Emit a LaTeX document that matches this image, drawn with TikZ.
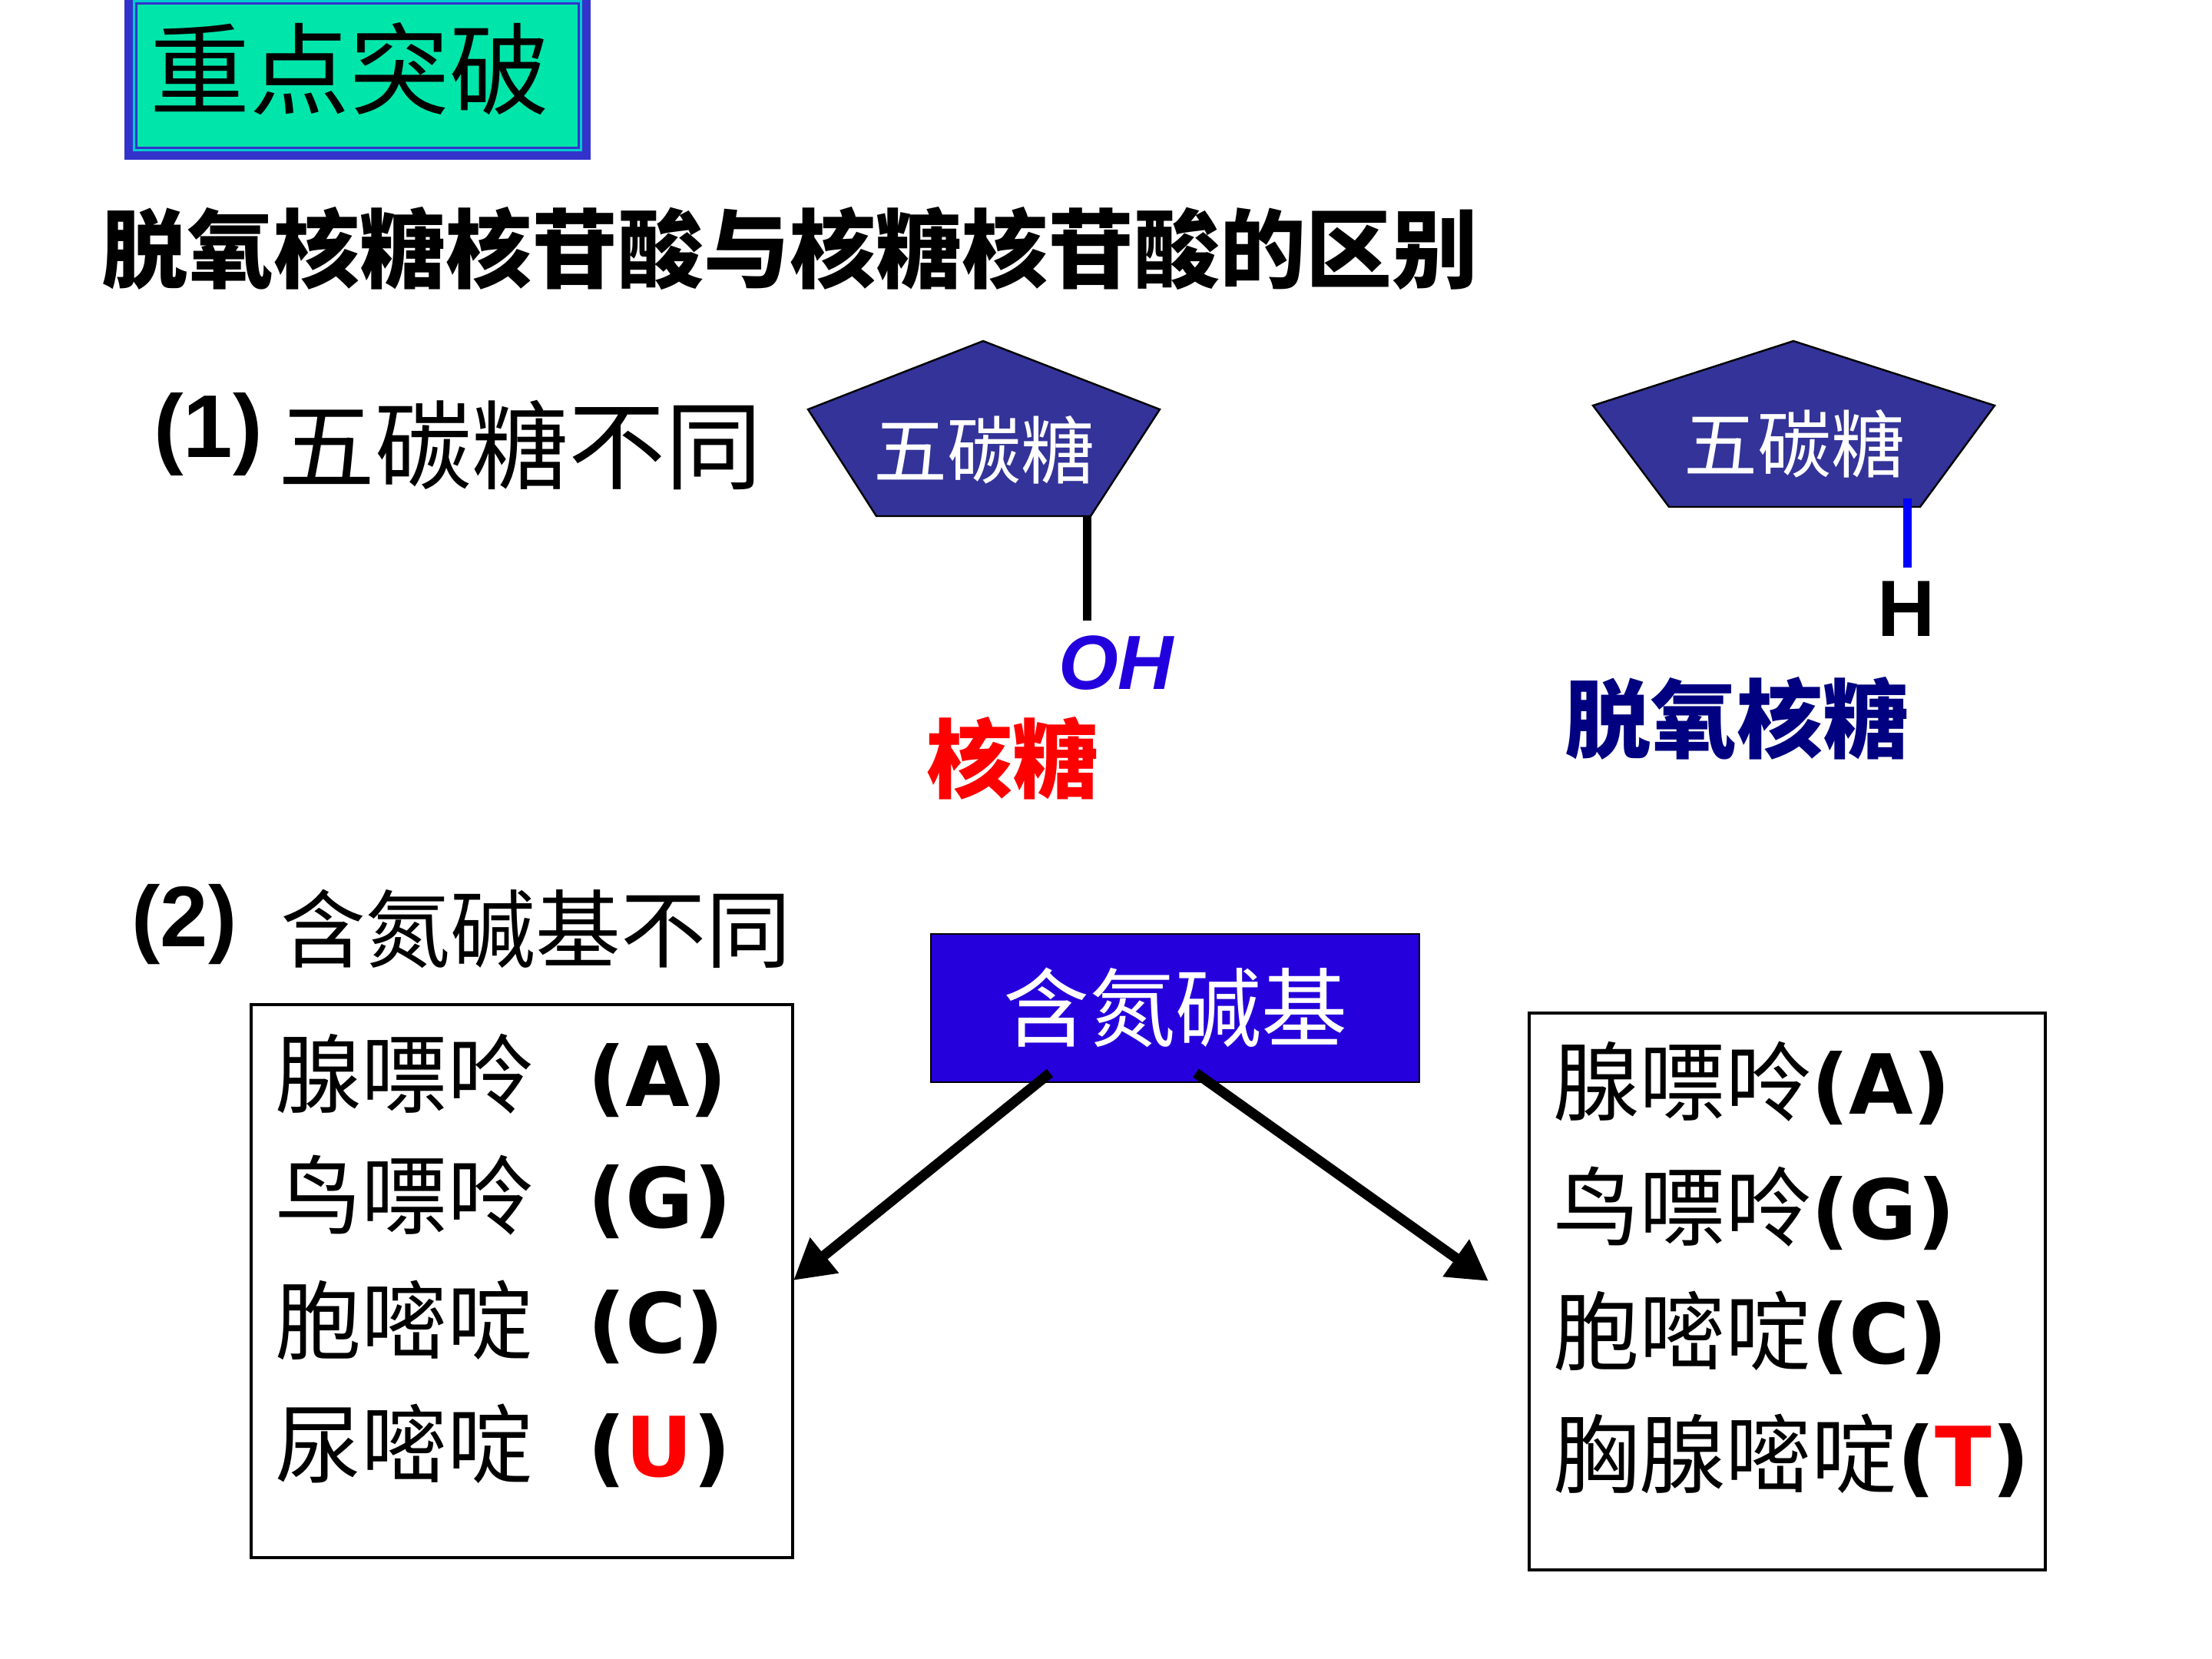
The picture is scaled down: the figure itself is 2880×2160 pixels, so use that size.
\documentclass[tikz,border=0pt]{standalone}
\usepackage{fontspec}
\setmainfont{DejaVu Sans}
\newfontfamily\cjk{Noto Sans CJK SC}
\newfontfamily\arialf{Liberation Sans}
\usetikzlibrary{arrows.meta}
\definecolor{tblue}{HTML}{3333CC}
\definecolor{tcyan}{HTML}{00CCCC}
\definecolor{tteal}{HTML}{00E6AA}
\definecolor{pentfill}{HTML}{333399}
\definecolor{nblue}{HTML}{2600DC}
\definecolor{ohblue}{HTML}{2200DD}
\definecolor{hblue}{HTML}{0000FF}
\definecolor{navyc}{HTML}{000080}
\newcommand{\setfs}[1]{\fontsize{#1pt}{#1pt}\selectfont}
\tikzset{
  pent/.style={fill=pentfill, draw=black, line width=0.6pt, line join=miter},
  penttext/.style={font=\cjk\setfs{24}, text=white},
  rowcjk/.style={font=\cjk\setfs{28}, anchor=base west},
  rowlat/.style={font=\bfseries\setfs{27}, anchor=base west},
  listbox/.style={draw=black, line width=0.8pt},
  arr/.style={line width=3.3pt, -{Triangle[length=13pt,width=14pt]}},
}
\begin{document}
\begin{tikzpicture}[x=0.25pt,y=-0.25pt, every node/.style={inner sep=0pt, outer sep=0pt}]
\useasboundingbox (0,0) rectangle (2880,2160);
\fill[white] (0,0) rectangle (2880,2160);

% title frame
\fill[tblue] (162,-20) rectangle (769,208);
\fill[tcyan] (173,-20) rectangle (758,197);
\fill[tblue] (176,3) rectangle (755,194);
\fill[tteal] (179,6) rectangle (752,191);
\node[font=\cjk\setfs{32.5}] (title) at (455,90) {重点突破};

\node[font=\cjk\bfseries\setfs{28}] (sub) at (1028,324) {脱氧核糖核苷酸与核糖核苷酸的区别};

% (1)
\node[font=\arialf\bfseries\setfs{29}] (n1) at (271,566) {(1)};
\node[font=\cjk\setfs{31.5}, anchor=west] (t1) at (362,579) {五碳糖不同};

% pentagon 1
\coordinate (p1a) at (1280,444);
\coordinate (p1b) at (1510,533);
\coordinate (p1c) at (1420,672);
\coordinate (p1d) at (1141,672);
\coordinate (p1e) at (1052,533);
\draw[pent] (p1a) -- (p1b) -- (p1c) -- (p1d) -- (p1e) -- cycle;
\node[penttext] (s1) at (1281,586) {五碳糖};
\coordinate (l1a) at (1415,672);
\coordinate (l1b) at (1415,808);
\draw[line width=2.75pt] (l1a) -- (l1b);
\node[font=\arialf\bfseries\itshape\setfs{25}, text=ohblue] (oh) at (1453,863) {OH};
\node[font=\cjk\bfseries\setfs{28}, text=red] (ribose) at (1318,987) {核糖};

% pentagon 2
\coordinate (p2a) at (2335,444);
\coordinate (p2b) at (2597,528);
\coordinate (p2c) at (2500,660);
\coordinate (p2d) at (2173,660);
\coordinate (p2e) at (2074,528);
\draw[pent] (p2a) -- (p2b) -- (p2c) -- (p2d) -- (p2e) -- cycle;
\node[penttext] (s2) at (2336,578) {五碳糖};
\coordinate (l2a) at (2483,649);
\coordinate (l2b) at (2483,739);
\draw[line width=2.75pt, hblue] (l2a) -- (l2b);
\node[font=\arialf\bfseries\setfs{26}] (h) at (2482,793) {H};
\node[font=\cjk\bfseries\setfs{28}, text=navyc] (deoxy) at (2261,935) {脱氧核糖};

% (2)
\node[font=\arialf\bfseries\setfs{28}] (n2) at (240,1204) {(2)};
\node[font=\cjk\setfs{27.7}, anchor=west] (t2) at (365,1209) {含氮碱基不同};

% base box
\node[draw=black, line width=0.5pt, fill=nblue, minimum width=159pt, minimum height=48.25pt,
      text=white, font=\cjk\setfs{28}] (basebox) at (1530,1312) {含氮碱基};

% list boxes
\node[listbox, minimum width=176.25pt, minimum height=180pt] (lbox) at (679.5,1668) {};
\node[listbox, minimum width=168pt, minimum height=181.25pt] (rbox) at (2327,1681.5) {};

% left rows
\node[rowcjk] (la) at (358,1440) {腺嘌呤};
\node[rowlat] (laa) at (765,1440) {(A)};
\node[rowcjk] (lg) at (358,1598) {鸟嘌呤};
\node[rowlat] (lgg) at (765,1598) {(G)};
\node[rowcjk] (lc) at (358,1761) {胞嘧啶};
\node[rowlat] (lcc) at (765,1761) {(C)};
\node[rowcjk] (lu) at (358,1922) {尿嘧啶};
\node[rowlat] (luu) at (765,1922) {(\textcolor{red}{U})};

% right rows
\node[rowcjk] (ra) at (2022,1450) {腺嘌呤{\fontspec{DejaVu Sans}\bfseries\setfs{27}(A)}};
\node[rowcjk] (rg) at (2022,1613) {鸟嘌呤{\fontspec{DejaVu Sans}\bfseries\setfs{27}(G)}};
\node[rowcjk] (rc) at (2022,1775) {胞嘧啶{\fontspec{DejaVu Sans}\bfseries\setfs{27}(C)}};
\node[rowcjk] (rt) at (2022,1935) {胸腺嘧啶{\fontspec{DejaVu Sans}\bfseries\setfs{27}(\textcolor{red}{T})}};

% arrows
\coordinate (a1s) at (1367,1397);
\coordinate (a1e) at (1033,1667);
\coordinate (a2s) at (1557,1397);
\coordinate (a2e) at (1938,1668);
\draw[arr] (a1s) -- (a1e);
\draw[arr] (a2s) -- (a2e);
\end{tikzpicture}
\end{document}
